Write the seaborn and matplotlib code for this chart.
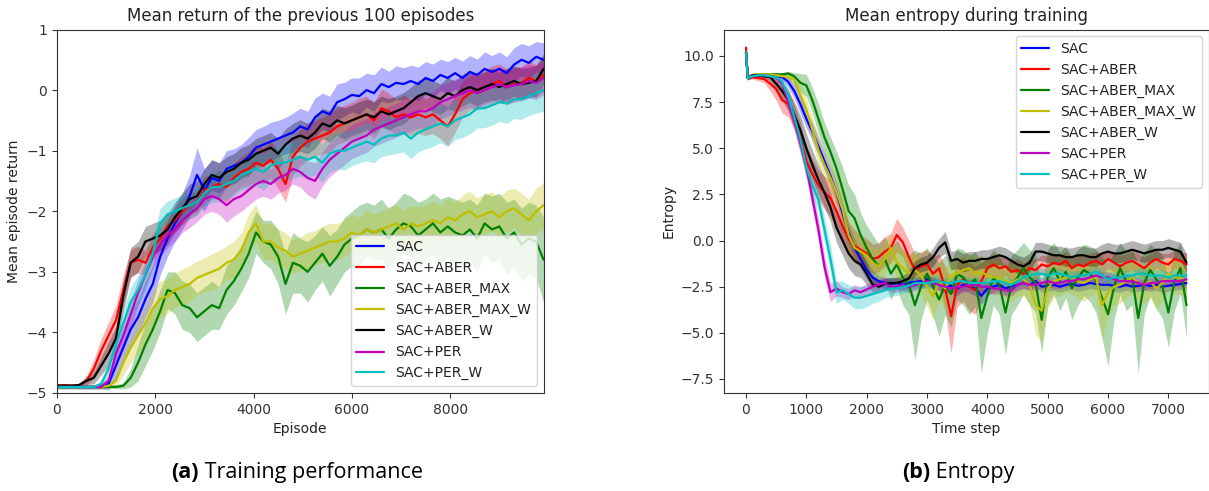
import numpy as np
import pandas as pd
import matplotlib
matplotlib.use("Agg")
import matplotlib.pyplot as plt
import seaborn as sns

# ---------------------------------------------------------------- data
methods = ["SAC", "SAC+ABER", "SAC+ABER_MAX", "SAC+ABER_MAX_W",
           "SAC+ABER_W", "SAC+PER", "SAC+PER_W"]
colors = ["b", "r", "g", "y", "k", "m", "c"]

# mean return of the previous 100 episodes (one value every 150 episodes)
episodes = list(range(0, 9901, 150))

ret_sac = [-4.88, -4.9, -4.89, -4.9, -4.9, -4.9, -4.88, -4.85, -4.55, -4.25,
           -3.95, -3.75, -3.45, -3.2, -2.75, -2.45, -2.2, -2.0, -1.75, -1.4,
           -1.65, -1.45, -1.5, -1.3, -1.25, -1.2, -1.1, -0.95, -0.9, -0.85,
           -0.8, -0.75, -0.7, -0.6, -0.65, -0.45, -0.35, -0.4, -0.2, -0.15,
           -0.08, -0.1, 0.0, -0.05, 0.1, 0.05, 0.12, 0.1, 0.15, 0.1,
           0.2, 0.15, 0.25, 0.2, 0.28, 0.2, 0.3, 0.25, 0.35, 0.3,
           0.35, 0.28, 0.42, 0.5, 0.45, 0.55, 0.5]
ret_aber = [-4.88, -4.87, -4.88, -4.87, -4.8, -4.6, -4.3, -4.05, -3.8, -3.3,
            -2.85, -2.8, -2.85, -2.6, -2.45, -2.25, -2.15, -2.0, -1.9, -1.85,
            -1.65, -1.6, -1.55, -1.6, -1.45, -1.35, -1.3, -1.2, -1.25, -1.15,
            -1.3, -1.55, -1.1, -0.95, -0.85, -0.8, -0.75, -0.7, -0.6, -0.55,
            -0.5, -0.45, -0.4, -0.5, -0.3, -0.35, -0.45, -0.4, -0.45, -0.4,
            -0.45, -0.4, -0.5, -0.6, -0.4, -0.15, -0.05, 0.0, 0.05, 0.1,
            0.15, 0.05, 0.1, 0.12, 0.2, 0.15, 0.25]
ret_aber_max = [-4.9, -4.9, -4.9, -4.9, -4.9, -4.9, -4.9, -4.9, -4.9, -4.88,
                -4.75, -4.5, -4.2, -3.95, -3.65, -3.3, -3.35, -3.55, -3.6, -3.75,
                -3.65, -3.55, -3.6, -3.3, -3.15, -2.95, -2.7, -2.35, -2.5, -2.55,
                -2.75, -3.2, -2.85, -2.9, -3.0, -2.85, -2.7, -2.9, -2.75, -2.55,
                -2.45, -2.4, -2.3, -2.35, -2.3, -2.45, -2.3, -2.2, -2.25, -2.4,
                -2.3, -2.2, -2.35, -2.25, -2.35, -2.4, -2.3, -2.45, -2.2, -2.3,
                -2.25, -2.45, -2.35, -2.55, -2.45, -2.5, -2.8]
ret_aber_max_w = [-4.9, -4.9, -4.9, -4.9, -4.9, -4.9, -4.9, -4.88, -4.8, -4.5,
                  -4.25, -4.05, -3.85, -3.6, -3.45, -3.4, -3.3, -3.25, -3.2, -3.1,
                  -3.05, -3.0, -2.95, -2.85, -2.8, -2.65, -2.35, -2.2, -2.5, -2.5,
                  -2.6, -2.65, -2.75, -2.7, -2.65, -2.6, -2.55, -2.5, -2.5, -2.45,
                  -2.35, -2.4, -2.3, -2.35, -2.3, -2.25, -2.2, -2.3, -2.2, -2.25,
                  -2.2, -2.15, -2.2, -2.1, -2.15, -2.05, -2.0, -2.1, -2.05, -2.0,
                  -2.1, -2.0, -1.95, -2.05, -2.15, -2.0, -1.9]
ret_aber_w = [-4.88, -4.88, -4.88, -4.87, -4.8, -4.75, -4.55, -4.35, -4.1, -3.4,
              -2.85, -2.75, -2.5, -2.45, -2.4, -2.3, -2.1, -1.95, -1.8, -1.75,
              -1.55, -1.4, -1.45, -1.35, -1.3, -1.2, -1.15, -1.05, -1.0, -0.95,
              -1.05, -0.9, -0.8, -0.75, -0.8, -0.7, -0.55, -0.6, -0.5, -0.55,
              -0.5, -0.45, -0.4, -0.45, -0.35, -0.4, -0.35, -0.3, -0.2, -0.1,
              -0.05, -0.1, -0.15, -0.05, -0.1, 0.0, 0.05, 0.0, 0.05, 0.1,
              0.05, 0.1, 0.15, 0.1, 0.12, 0.15, 0.35]
ret_per = [-4.9, -4.9, -4.9, -4.9, -4.9, -4.9, -4.9, -4.8, -4.35, -4.05,
           -3.7, -3.35, -3.05, -2.75, -2.55, -2.4, -2.3, -2.15, -2.05, -1.95,
           -1.8, -1.75, -1.8, -1.9, -1.8, -1.75, -1.65, -1.55, -1.5, -1.55,
           -1.45, -1.4, -1.3, -1.35, -1.45, -1.5, -1.3, -1.15, -1.05, -0.95,
           -0.85, -0.8, -0.75, -0.65, -0.6, -0.55, -0.5, -0.45, -0.4, -0.35,
           -0.35, -0.3, -0.2, -0.15, -0.1, -0.05, 0.0, -0.05, 0.0, 0.05,
           0.1, 0.05, 0.08, 0.1, 0.15, 0.12, 0.2]
ret_per_w = [-4.9, -4.9, -4.9, -4.9, -4.9, -4.9, -4.85, -4.6, -4.2, -3.85,
             -3.5, -3.3, -3.05, -2.7, -2.2, -2.05, -2.0, -1.95, -1.9, -1.85,
             -1.7, -1.6, -1.6, -1.55, -1.5, -1.4, -1.35, -1.3, -1.35, -1.25,
             -1.2, -1.2, -1.15, -1.1, -1.15, -1.1, -1.2, -1.05, -1.0, -1.0,
             -0.95, -0.9, -0.85, -0.9, -0.8, -0.75, -0.75, -0.7, -0.8, -0.7,
             -0.65, -0.6, -0.55, -0.6, -0.5, -0.45, -0.4, -0.3, -0.3, -0.25,
             -0.2, -0.22, -0.15, -0.15, -0.1, -0.05, 0.0]

# spread (half width of the shaded band) of each return curve
sd_sac = [0.03, 0.03, 0.03, 0.03, 0.03, 0.03, 0.05, 0.1, 0.2, 0.25,
          0.3, 0.3, 0.3, 0.3, 0.3, 0.3, 0.3, 0.3, 0.35, 0.45,
          0.35, 0.3, 0.3, 0.3, 0.28, 0.3, 0.32, 0.3, 0.3, 0.32,
          0.3, 0.3, 0.32, 0.3, 0.3, 0.32, 0.3, 0.3, 0.3, 0.28,
          0.28, 0.3, 0.28, 0.3, 0.28, 0.26, 0.28, 0.27, 0.26, 0.28,
          0.27, 0.28, 0.26, 0.27, 0.26, 0.28, 0.27, 0.26, 0.28, 0.27,
          0.28, 0.27, 0.28, 0.27, 0.28, 0.25, 0.28]
sd_aber = [0.03, 0.03, 0.03, 0.03, 0.08, 0.15, 0.2, 0.22, 0.25, 0.25,
           0.22, 0.22, 0.2, 0.22, 0.2, 0.2, 0.2, 0.22, 0.22, 0.2,
           0.22, 0.2, 0.22, 0.25, 0.25, 0.25, 0.28, 0.3, 0.3, 0.3,
           0.32, 0.3, 0.3, 0.3, 0.3, 0.3, 0.3, 0.32, 0.3, 0.3,
           0.3, 0.32, 0.3, 0.3, 0.32, 0.3, 0.3, 0.32, 0.3, 0.32,
           0.3, 0.32, 0.3, 0.32, 0.3, 0.3, 0.28, 0.3, 0.28, 0.3,
           0.28, 0.3, 0.28, 0.27, 0.28, 0.27, 0.28]
sd_aber_max = [0.03, 0.03, 0.03, 0.03, 0.03, 0.03, 0.03, 0.03, 0.03, 0.05,
               0.15, 0.3, 0.35, 0.35, 0.35, 0.3, 0.35, 0.4, 0.4, 0.4,
               0.4, 0.4, 0.35, 0.4, 0.4, 0.38, 0.4, 0.35, 0.35, 0.4,
               0.45, 0.5, 0.5, 0.45, 0.5, 0.45, 0.45, 0.5, 0.45, 0.45,
               0.45, 0.5, 0.45, 0.45, 0.5, 0.5, 0.45, 0.5, 0.5, 0.55,
               0.5, 0.5, 0.55, 0.5, 0.55, 0.55, 0.5, 0.55, 0.5, 0.55,
               0.55, 0.6, 0.55, 0.6, 0.6, 0.6, 0.7]
sd_aber_max_w = [0.03, 0.03, 0.03, 0.03, 0.03, 0.03, 0.03, 0.04, 0.1, 0.2,
                 0.25, 0.3, 0.3, 0.3, 0.3, 0.28, 0.28, 0.3, 0.3, 0.28,
                 0.28, 0.3, 0.3, 0.28, 0.3, 0.3, 0.3, 0.32, 0.3, 0.3,
                 0.3, 0.3, 0.28, 0.28, 0.3, 0.28, 0.3, 0.3, 0.3, 0.3,
                 0.3, 0.3, 0.32, 0.3, 0.3, 0.32, 0.3, 0.32, 0.3, 0.32,
                 0.3, 0.32, 0.3, 0.32, 0.3, 0.32, 0.33, 0.32, 0.33, 0.32,
                 0.33, 0.35, 0.33, 0.35, 0.35, 0.38, 0.38]
sd_aber_w = [0.03, 0.03, 0.03, 0.03, 0.06, 0.1, 0.15, 0.2, 0.2, 0.25,
             0.25, 0.25, 0.25, 0.25, 0.25, 0.25, 0.25, 0.25, 0.25, 0.25,
             0.25, 0.25, 0.25, 0.25, 0.25, 0.25, 0.25, 0.25, 0.25, 0.25,
             0.25, 0.26, 0.25, 0.26, 0.25, 0.26, 0.25, 0.26, 0.25, 0.26,
             0.25, 0.26, 0.25, 0.26, 0.25, 0.26, 0.25, 0.26, 0.25, 0.26,
             0.25, 0.26, 0.25, 0.26, 0.25, 0.26, 0.25, 0.26, 0.25, 0.26,
             0.25, 0.26, 0.25, 0.26, 0.25, 0.26, 0.25]
sd_per = [0.03, 0.03, 0.03, 0.03, 0.03, 0.03, 0.03, 0.08, 0.15, 0.2,
          0.22, 0.22, 0.2, 0.2, 0.2, 0.2, 0.2, 0.2, 0.22, 0.22,
          0.25, 0.25, 0.25, 0.28, 0.28, 0.25, 0.25, 0.25, 0.25, 0.25,
          0.25, 0.25, 0.25, 0.25, 0.28, 0.3, 0.28, 0.28, 0.28, 0.28,
          0.28, 0.28, 0.28, 0.28, 0.28, 0.28, 0.28, 0.28, 0.28, 0.28,
          0.28, 0.28, 0.28, 0.28, 0.28, 0.28, 0.28, 0.28, 0.28, 0.28,
          0.28, 0.28, 0.28, 0.28, 0.28, 0.28, 0.28]
sd_per_w = [0.03, 0.03, 0.03, 0.03, 0.03, 0.03, 0.05, 0.12, 0.18, 0.22,
            0.25, 0.25, 0.25, 0.25, 0.25, 0.22, 0.22, 0.22, 0.22, 0.22,
            0.22, 0.25, 0.25, 0.25, 0.25, 0.25, 0.28, 0.28, 0.3, 0.28,
            0.28, 0.3, 0.3, 0.32, 0.3, 0.3, 0.32, 0.3, 0.3, 0.32,
            0.3, 0.3, 0.32, 0.3, 0.3, 0.32, 0.3, 0.32, 0.33, 0.32,
            0.32, 0.33, 0.32, 0.33, 0.32, 0.33, 0.32, 0.33, 0.32, 0.33,
            0.32, 0.33, 0.32, 0.33, 0.32, 0.33, 0.35]

# mean policy entropy during training
steps = [0, 30] + list(range(100, 7301, 100))

ent_sac = [10.2, 8.8, 8.9, 8.95, 8.95, 8.95, 8.9, 8.85, 8.6, 8.1,
           7.4, 6.6, 5.9, 5.1, 4.3, 3.5, 2.6, 1.5, 0.4, -0.4,
           -1.0, -1.6, -2.0, -2.2, -2.3, -2.35, -2.3, -2.4, -2.3, -2.25,
           -2.2, -2.1, -2.3, -2.4, -2.5, -2.45, -2.6, -2.4, -2.5, -2.6,
           -3.0, -2.6, -2.5, -2.4, -2.6, -2.5, -2.4, -2.3, -2.4, -2.2,
           -2.5, -2.45, -2.4, -2.5, -2.4, -2.35, -2.45, -2.4, -2.3, -2.35,
           -2.4, -2.4, -2.45, -2.5, -2.4, -2.5, -2.45, -2.4, -2.45, -2.4,
           -2.5, -2.45, -2.4, -2.35, -2.3]
ent_aber = [10.45, 8.8, 8.85, 8.8, 8.75, 8.5, 8.2, 7.6, 7.4, 6.7,
            5.6, 4.3, 3.6, 3.0, 2.6, 2.3, 1.6, 0.8, 0.1, -0.3,
            -0.5, -0.7, -1.0, -0.9, -0.6, -0.4, 0.3, -0.1, -0.9, -1.6,
            -1.4, -1.3, -1.8, -1.5, -2.6, -4.1, -2.4, -2.1, -2.5, -2.7,
            -2.2, -1.5, -1.3, -1.5, -1.4, -1.7, -1.6, -1.8, -1.5, -1.6,
            -1.3, -1.4, -1.2, -1.3, -1.1, -1.5, -1.3, -1.4, -1.2, -1.1,
            -1.3, -1.0, -1.2, -1.4, -1.2, -1.1, -1.3, -1.5, -1.2, -1.0,
            -1.2, -1.3, -1.0, -1.1, -1.3]
ent_aber_max = [10.2, 8.8, 8.95, 9.0, 9.0, 9.0, 9.0, 9.0, 9.05, 8.9,
                8.55, 8.4, 7.6, 6.6, 5.6, 4.8, 3.9, 2.8, 1.6, 1.2,
                0.3, -0.4, -1.0, -1.4, -1.0, -1.8, -1.3, -2.0, -2.4, -3.5,
                -2.5, -1.8, -2.5, -3.2, -2.4, -2.9, -1.8, -2.0, -2.4, -2.1,
                -4.2, -3.0, -2.0, -2.4, -3.9, -2.4, -2.0, -1.5, -2.0, -2.3,
                -4.3, -2.0, -1.5, -2.2, -1.7, -2.6, -2.0, -1.6, -1.8, -2.2,
                -3.1, -4.0, -2.5, -1.5, -2.2, -2.0, -4.2, -2.3, -1.6, -2.1,
                -2.5, -3.9, -2.2, -1.5, -3.5]
ent_aber_max_w = [10.2, 8.8, 8.95, 9.0, 9.0, 9.0, 8.95, 8.9, 8.85, 8.7,
                  7.9, 7.1, 6.0, 4.9, 4.1, 3.4, 2.6, 1.7, 0.3, -0.4,
                  -0.6, -0.8, -1.2, -1.4, -1.0, -0.4, -1.2, -1.5, -1.8, -1.6,
                  -1.9, -2.5, -3.0, -2.2, -2.6, -1.9, -1.8, -1.6, -1.5, -1.8,
                  -1.7, -1.9, -2.0, -2.0, -2.2, -2.3, -2.1, -2.1, -2.4, -3.5,
                  -3.8, -2.6, -2.2, -2.1, -2.0, -2.0, -2.2, -2.3, -2.1, -2.0,
                  -3.5, -2.8, -2.5, -2.4, -2.2, -2.0, -2.3, -2.4, -2.2, -2.6,
                  -2.3, -1.8, -2.0, -2.0, -2.2]
ent_aber_w = [10.2, 8.8, 8.95, 8.95, 8.9, 8.85, 8.5, 8.1, 7.6, 6.8,
              6.0, 5.0, 4.1, 3.3, 2.6, 1.8, 0.7, 0.0, -0.7, -1.1,
              -1.3, -1.8, -2.4, -2.5, -2.35, -2.3, -2.3, -2.2, -2.05, -1.5,
              -1.3, -1.2, -0.9, -0.4, -0.1, -1.1, -1.0, -1.2, -1.1, -1.1,
              -1.0, -1.0, -0.9, -0.8, -0.9, -1.1, -1.3, -1.4, -1.2, -0.6,
              -0.6, -0.7, -0.8, -0.8, -0.9, -0.9, -0.8, -0.8, -0.9, -0.9,
              -0.7, -0.6, -0.7, -0.7, -0.6, -0.5, -0.6, -0.7, -0.6, -0.5,
              -0.5, -0.4, -0.5, -0.6, -1.2]
ent_per = [10.2, 8.8, 8.9, 8.95, 8.95, 8.9, 8.85, 8.5, 7.5, 6.5,
           5.3, 4.0, 2.3, 0.6, -1.4, -2.8, -2.6, -2.8, -2.9, -2.7,
           -2.8, -2.65, -2.5, -2.4, -2.3, -2.5, -2.5, -2.4, -2.5, -2.4,
           -2.3, -2.2, -2.3, -2.4, -2.5, -2.6, -2.5, -2.5, -2.4, -2.4,
           -2.5, -2.5, -2.6, -2.6, -2.7, -2.7, -2.4, -2.3, -2.4, -2.4,
           -2.3, -2.2, -2.3, -2.3, -2.2, -2.2, -2.1, -2.1, -2.0, -1.9,
           -2.0, -2.0, -2.1, -2.2, -2.2, -2.2, -2.3, -2.4, -2.3, -2.3,
           -2.2, -2.2, -2.2, -2.2, -2.1]
ent_per_w = [10.2, 8.8, 8.9, 8.95, 8.95, 8.9, 8.85, 8.6, 7.8, 6.7,
             5.5, 4.0, 3.0, 2.2, 0.6, -1.0, -2.8, -2.7, -2.9, -3.1,
             -3.1, -3.0, -2.9, -2.8, -2.7, -2.6, -2.6, -2.5, -2.45, -2.3,
             -2.3, -2.3, -2.25, -2.2, -2.3, -2.3, -2.2, -2.2, -2.3, -2.3,
             -2.3, -2.3, -2.2, -2.2, -2.3, -2.4, -2.2, -2.0, -1.9, -1.8,
             -1.8, -1.9, -1.8, -1.8, -1.9, -2.0, -1.9, -1.9, -1.8, -1.7,
             -1.9, -2.1, -2.0, -2.0, -1.9, -1.9, -1.8, -1.8, -1.9, -1.9,
             -1.9, -2.0, -1.9, -1.9, -1.9]

# spread of each entropy curve
esd_sac = [0.1, 0.1, 0.1, 0.1, 0.1, 0.1, 0.1, 0.15, 0.3, 0.4,
           0.5, 0.5, 0.5, 0.5, 0.5, 0.5, 0.6, 0.6, 0.5, 0.5,
           0.5, 0.5, 0.4, 0.3, 0.3, 0.3, 0.3, 0.3, 0.3, 0.3,
           0.3, 0.3, 0.3, 0.3, 0.35, 0.3, 0.4, 0.3, 0.35, 0.4,
           0.5, 0.4, 0.3, 0.3, 0.35, 0.3, 0.3, 0.3, 0.3, 0.3,
           0.3, 0.3, 0.3, 0.3, 0.3, 0.3, 0.3, 0.3, 0.3, 0.3,
           0.3, 0.3, 0.3, 0.3, 0.3, 0.3, 0.3, 0.3, 0.3, 0.3,
           0.3, 0.3, 0.3, 0.3, 0.3]
esd_aber = [0.15, 0.1, 0.1, 0.15, 0.2, 0.4, 0.6, 0.7, 0.7, 0.7,
            0.8, 0.8, 0.8, 0.8, 0.9, 1.0, 1.0, 1.0, 0.9, 0.9,
            0.8, 0.8, 0.8, 0.8, 0.8, 0.8, 0.9, 0.8, 0.9, 0.9,
            0.8, 0.8, 0.9, 0.8, 1.2, 2.0, 1.2, 1.2, 1.3, 1.3,
            1.0, 0.6, 0.6, 0.6, 0.5, 0.6, 0.6, 0.6, 0.5, 0.6,
            0.5, 0.6, 0.5, 0.5, 0.5, 0.6, 0.5, 0.6, 0.5, 0.5,
            0.6, 0.5, 0.5, 0.6, 0.5, 0.5, 0.6, 0.6, 0.5, 0.5,
            0.5, 0.6, 0.5, 0.5, 0.6]
esd_aber_max = [0.1, 0.1, 0.1, 0.1, 0.1, 0.1, 0.1, 0.1, 0.1, 0.2,
                0.5, 0.6, 0.7, 0.8, 0.8, 0.8, 0.9, 1.2, 1.4, 1.3,
                1.2, 1.2, 1.3, 1.2, 1.2, 1.4, 1.3, 1.5, 1.6, 3.0,
                1.8, 1.4, 1.6, 2.0, 1.6, 1.8, 1.4, 1.5, 1.6, 1.5,
                3.0, 2.0, 1.5, 1.6, 2.3, 1.6, 1.5, 1.4, 1.5, 1.6,
                1.8, 1.5, 1.4, 1.6, 1.4, 1.7, 1.5, 1.4, 1.5, 1.7,
                2.2, 2.8, 1.8, 1.4, 1.6, 1.5, 3.0, 1.7, 1.4, 1.6,
                1.7, 1.9, 1.6, 1.4, 1.8]
esd_aber_max_w = [0.1, 0.1, 0.1, 0.1, 0.1, 0.1, 0.1, 0.1, 0.15, 0.3,
                  0.5, 0.6, 0.7, 0.8, 0.8, 0.8, 0.9, 0.9, 0.9, 0.8,
                  0.8, 0.8, 0.8, 0.9, 0.9, 0.8, 0.9, 0.9, 1.0, 0.9,
                  1.0, 1.1, 1.3, 1.0, 1.1, 0.9, 0.8, 0.8, 0.8, 0.9,
                  0.9, 0.9, 0.9, 0.9, 0.9, 1.0, 0.9, 0.9, 1.0, 1.6,
                  1.7, 1.1, 0.9, 0.9, 0.8, 0.9, 0.9, 1.0, 0.9, 0.9,
                  1.8, 1.3, 1.0, 1.0, 0.9, 0.9, 1.0, 1.0, 0.9, 1.1,
                  1.0, 0.9, 0.9, 0.9, 1.0]
esd_aber_w = [0.1, 0.1, 0.1, 0.1, 0.15, 0.2, 0.4, 0.5, 0.6, 0.7,
              0.8, 0.8, 0.8, 0.8, 0.8, 0.8, 0.8, 0.8, 0.8, 0.8,
              0.7, 0.6, 0.4, 0.3, 0.3, 0.3, 0.3, 0.3, 0.4, 0.4,
              0.4, 0.4, 0.5, 0.5, 0.6, 0.5, 0.5, 0.5, 0.5, 0.5,
              0.5, 0.5, 0.5, 0.5, 0.5, 0.5, 0.5, 0.5, 0.5, 0.5,
              0.5, 0.5, 0.5, 0.5, 0.5, 0.5, 0.5, 0.5, 0.5, 0.5,
              0.5, 0.5, 0.5, 0.5, 0.5, 0.5, 0.5, 0.5, 0.5, 0.5,
              0.5, 0.5, 0.5, 0.5, 0.5]
esd_per = [0.1, 0.1, 0.1, 0.1, 0.1, 0.1, 0.1, 0.2, 0.4, 0.5,
           0.6, 0.6, 0.6, 0.6, 0.6, 0.5, 0.4, 0.3, 0.3, 0.3,
           0.3, 0.3, 0.3, 0.3, 0.3, 0.3, 0.3, 0.3, 0.3, 0.3,
           0.3, 0.3, 0.3, 0.3, 0.3, 0.3, 0.3, 0.3, 0.3, 0.3,
           0.3, 0.3, 0.3, 0.3, 0.3, 0.3, 0.3, 0.3, 0.3, 0.3,
           0.3, 0.3, 0.3, 0.3, 0.3, 0.3, 0.3, 0.3, 0.3, 0.3,
           0.3, 0.3, 0.3, 0.3, 0.3, 0.3, 0.3, 0.3, 0.3, 0.3,
           0.3, 0.3, 0.3, 0.3, 0.3]
esd_per_w = [0.1, 0.1, 0.1, 0.1, 0.1, 0.1, 0.1, 0.2, 0.4, 0.5,
             0.6, 0.6, 0.6, 0.6, 0.7, 0.8, 0.6, 0.5, 0.5, 0.6,
             0.6, 0.6, 0.5, 0.5, 0.4, 0.4, 0.4, 0.35, 0.35, 0.3,
             0.3, 0.3, 0.3, 0.3, 0.3, 0.3, 0.3, 0.3, 0.3, 0.3,
             0.3, 0.3, 0.3, 0.3, 0.3, 0.3, 0.3, 0.3, 0.3, 0.3,
             0.3, 0.3, 0.3, 0.3, 0.3, 0.3, 0.3, 0.3, 0.3, 0.3,
             0.3, 0.3, 0.3, 0.3, 0.3, 0.3, 0.3, 0.3, 0.3, 0.3,
             0.3, 0.3, 0.3, 0.3, 0.3]

returns = [ret_sac, ret_aber, ret_aber_max, ret_aber_max_w,
           ret_aber_w, ret_per, ret_per_w]
return_sd = [sd_sac, sd_aber, sd_aber_max, sd_aber_max_w,
             sd_aber_w, sd_per, sd_per_w]
entropies = [ent_sac, ent_aber, ent_aber_max, ent_aber_max_w,
             ent_aber_w, ent_per, ent_per_w]
entropy_sd = [esd_sac, esd_aber, esd_aber_max, esd_aber_max_w,
              esd_aber_w, esd_per, esd_per_w]

captions = [("(a)", "Training performance"), ("(b)", "Entropy")]

# ---------------------------------------------------------------- style
sns.set_style("ticks")
plt.rcParams["font.family"] = ["DejaVu Sans"]
plt.rcParams["axes.edgecolor"] = "#333333"
plt.rcParams["xtick.color"] = "#333333"
plt.rcParams["ytick.color"] = "#333333"
plt.rcParams["text.color"] = "#222222"
plt.rcParams["axes.labelcolor"] = "#222222"

fig = plt.figure(figsize=(12.09, 4.91), dpi=100)
ax1 = fig.add_axes([0.0471, 0.1996, 0.4025, 0.7403])
ax2 = fig.add_axes([0.5988, 0.1996, 0.4008, 0.7403])


def draw_panel(ax, x, means, spreads):
    x = np.asarray(x, dtype=float)
    for name, col, m, s in zip(methods, colors, means, spreads):
        m = np.asarray(m, dtype=float)
        s = np.asarray(s, dtype=float)
        ax.fill_between(x, m - s, m + s, color=col, alpha=0.3, linewidth=0)
        df = pd.DataFrame({"x": x, "y": m})
        sns.lineplot(data=df, x="x", y="y", color=col, linewidth=1.6,
                     label=name, ax=ax)


draw_panel(ax1, episodes, returns, return_sd)
ax1.set_xlim(0, 9900)
ax1.set_ylim(-5, 1)
ax1.set_xticks([0, 2000, 4000, 6000, 8000])
ax1.set_yticks([-5, -4, -3, -2, -1, 0, 1])
ax1.set_title("Mean return of the previous 100 episodes", fontsize=12)
ax1.set_xlabel("Episode", fontsize=10)
ax1.set_ylabel("Mean episode return", fontsize=10)
ax1.legend(loc="lower right", fontsize=10)

draw_panel(ax2, steps, entropies, entropy_sd)
ax2.set_xlim(-365, 7665)
ax2.set_ylim(-8.26, 11.43)
ax2.set_xticks([0, 1000, 2000, 3000, 4000, 5000, 6000, 7000])
ax2.set_yticks([-7.5, -5.0, -2.5, 0.0, 2.5, 5.0, 7.5, 10.0])
ax2.set_title("Mean entropy during training", fontsize=12)
ax2.set_xlabel("Time step", fontsize=10)
ax2.set_ylabel("Entropy", fontsize=10)
ax2.legend(loc="upper right", fontsize=10)

for ax in (ax1, ax2):
    ax.tick_params(labelsize=10, length=3.5, width=0.8)
    for sp in ax.spines.values():
        sp.set_linewidth(0.8)

# sub-figure captions, each centred under its panel
cap_font = ["Open Sans", "DejaVu Sans"]
renderer = fig.canvas.get_renderer()
fig_w = fig.get_figwidth() * fig.dpi
for (tag, text), xc in zip(captions, [0.2455, 0.7925]):
    t1 = fig.text(0, 0.037, tag, fontsize=15.5, fontweight="bold",
                  family=cap_font, ha="left", va="center", color="black")
    t2 = fig.text(0, 0.037, " " + text, fontsize=15.5, family=cap_font,
                  ha="left", va="center", color="black")
    w1 = t1.get_window_extent(renderer).width
    w2 = t2.get_window_extent(renderer).width
    x0 = xc - (w1 + w2) / 2 / fig_w
    t1.set_x(x0)
    t2.set_x(x0 + w1 / fig_w)

fig.savefig("out.png", dpi=100)
